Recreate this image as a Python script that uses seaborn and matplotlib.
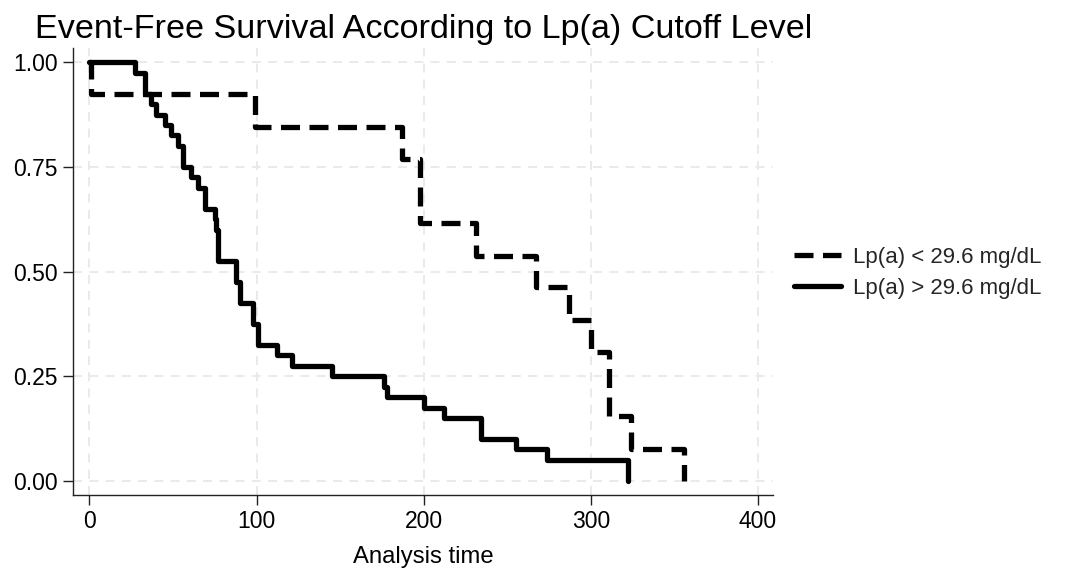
import numpy as np
import pandas as pd
import matplotlib
matplotlib.use("Agg")
import matplotlib.pyplot as plt
import seaborn as sns

# ---- data ----
groups = ["Lp(a) < 29.6 mg/dL", "Lp(a) > 29.6 mg/dL"]

times_low = [0, 1, 99, 187, 198, 231, 267, 287, 300, 311, 324, 356]
surv_low = [1.00, 0.923, 0.846, 0.769, 0.615, 0.538, 0.462, 0.385, 0.308, 0.154, 0.077, 0.0]

times_high = [0, 27, 33, 37, 40, 45, 49, 53, 56, 61, 65, 69, 75, 76, 77, 88, 90,
              98, 101, 112, 121, 145, 176, 178, 200, 212, 234, 255, 274, 322]
surv_high = [1.0, 0.975, 0.925, 0.90, 0.875, 0.85, 0.825, 0.80, 0.75, 0.725, 0.70,
             0.65, 0.625, 0.60, 0.525, 0.475, 0.425, 0.375, 0.325, 0.30, 0.275,
             0.25, 0.225, 0.20, 0.175, 0.15, 0.10, 0.075, 0.05, 0.0]

xticks = [0, 100, 200, 300, 400]
yticks = [0.00, 0.25, 0.50, 0.75, 1.00]
ytick_labels = ["0.00", "0.25", "0.50", "0.75", "1.00"]

title = "Event-Free Survival According to Lp(a) Cutoff Level"
xlabel = "Analysis time"

df = pd.concat([
    pd.DataFrame({"time": times_low, "surv": surv_low, "group": groups[0]}),
    pd.DataFrame({"time": times_high, "surv": surv_high, "group": groups[1]}),
], ignore_index=True)

sns.set_theme(style="white")
plt.rcParams["font.family"] = ["Liberation Sans", "DejaVu Sans"]

fig = plt.figure(figsize=(10.66, 5.71), dpi=100)
ax = fig.add_axes([0.0688, 0.1331, 0.6564, 0.7828])

lw = 3.8
sns.lineplot(data=df[df.group == groups[0]], x="time", y="surv", ax=ax,
             color="black", lw=lw, drawstyle="steps-post", estimator=None,
             sort=False, label=groups[0], dashes=False,
             linestyle=(0, (3.6, 1.8)))
sns.lineplot(data=df[df.group == groups[1]], x="time", y="surv", ax=ax,
             color="black", lw=lw, drawstyle="steps-post", estimator=None,
             sort=False, label=groups[1])

ax.set_xlim(-9.6, 409)
ax.set_ylim(-0.034, 1.034)
ax.set_xticks(xticks)
ax.set_yticks(yticks)
ax.set_yticklabels(ytick_labels)
ax.grid(True, color="#e8e8e8", linestyle=(0, (5, 4)), lw=1.3)
ax.set_axisbelow(True)

for s in ["top", "right"]:
    ax.spines[s].set_visible(False)
for s in ["left", "bottom"]:
    ax.spines[s].set_color("#222222")
    ax.spines[s].set_linewidth(1.0)

ax.tick_params(axis="both", which="major", direction="out", length=7, width=1.0,
               color="#222222", labelsize=16.5, labelcolor="black", pad=4,
               bottom=True, left=True)
ax.set_xlabel(xlabel, fontsize=17.2, color="black", labelpad=9)
ax.set_ylabel("")

fig.text(0.033, 0.9335, title, fontsize=24.6, color="black", ha="left",
         va="baseline")

leg = ax.legend(loc="center left", bbox_to_anchor=(0.7262, 0.522),
                bbox_transform=fig.transFigure, frameon=False,
                fontsize=16, handlelength=2.1, handletextpad=0.54,
                labelspacing=0.45, borderpad=0.4)

fig.savefig("out.png", dpi=100, facecolor="white")
